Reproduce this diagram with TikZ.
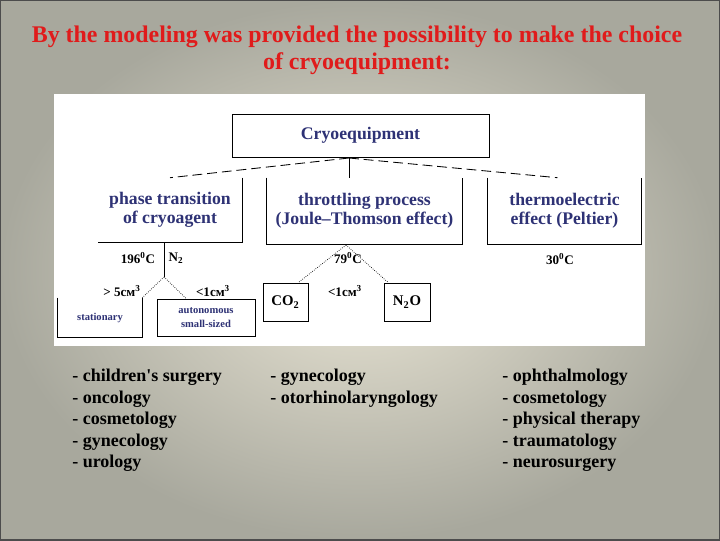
\documentclass[tikz,border=0pt]{standalone}
\usepackage{fontspec}
\setmainfont{Liberation Serif}
\usepackage{xcolor}
\definecolor{SlideRed}{HTML}{E01B1B}
\definecolor{BoxNavy}{HTML}{2E3275}
\definecolor{BgLight}{HTML}{E9E5D5}
\definecolor{BgDark}{HTML}{A8A89D}
\usetikzlibrary{calc}
\newcommand{\px}{0.025cm}
\newcommand{\degr}{\textsuperscript{0}}
\newcommand{\cmcube}{см\textsuperscript{3}}

\begin{document}
\begin{tikzpicture}[x=0.025cm, y=-0.025cm,
        heading/.style={
            align=center, inner sep=0pt, text=SlideRed,
            font=\fontsize{17}{19.4}\selectfont\bfseries
        },
        method/.style={
            rectangle, inner sep=0pt, align=center, text=BoxNavy,
            font=\fontsize{12.6}{13.6}\selectfont\bfseries
        },
        kind/.style={
            rectangle, inner sep=0pt, align=center, text=BoxNavy,
            font=\fontsize{7.5}{10}\selectfont\bfseries
        },
        gas/.style={
            rectangle, draw=black, line width=0.6pt, inner sep=0pt,
            font=\fontsize{10.5}{12}\selectfont\bfseries
        },
        note/.style={inner sep=0pt, font=\fontsize{9.3}{11}\selectfont\bfseries},
        usage/.style={
            anchor=north west, align=left, inner sep=0pt,
            font=\fontsize{12.8}{15.3}\selectfont\bfseries
        },
        edge/.style={line width=0.6pt},
        split/.style={line width=0.6pt, dash pattern=on 7pt off 3.5pt},
        dots/.style={line width=0.5pt, densely dotted}
    ]
        \useasboundingbox (0,0) rectangle (720,540);
        \shade[inner color=BgLight, outer color=BgDark] (0,0) rectangle (720,540);
        \draw[line width=1pt, draw=black!70] (0,0) rectangle (720,540);
        \fill[white] (54,94) rectangle (645,346);

        \node[heading] (title) at (357,50) {By the modeling was provided the possibility to make the choice\\of cryoequipment:};

        \node[method, draw=black, line width=0.6pt, minimum width=257*\px, minimum height=43*\px] (cryo) at (360.5,135.5) {Cryoequipment};
        \node[method, minimum width=144*\px, minimum height=64*\px] (phase) at (170,210) {phase transition\\of cryoagent};
        \node[method, minimum width=195*\px, minimum height=66*\px] (joule) at (364.5,211) {throttling process\\(Joule--Thomson effect)};
        \node[method, minimum width=153*\px, minimum height=66*\px] (peltier) at (564.5,211) {thermoelectric\\effect (Peltier)};

        \node[kind, minimum width=84*\px, minimum height=39*\px] (fixed) at (100,317.5) {stationary};
        \node[kind, draw=black, line width=0.6pt, minimum width=98*\px, minimum height=37*\px] (mobile) at (206,317.5) {autonomous\\small-sized};
        \node[gas, minimum width=45*\px, minimum height=38*\px] (co2) at (285.5,302) {CO\textsubscript{2}};
        \node[gas, minimum width=46*\px, minimum height=38*\px] (n2o) at (407,302) {N\textsubscript{2}O};

        \coordinate (hub) at (349,158);
        \coordinate (n2fork) at (164,277);
        \coordinate (jtfork) at (346,245);

        \draw[edge] (phase.north east) -- (phase.south east) -- (phase.south west);
        \draw[edge] (joule.north west) -- (joule.south west) -- (joule.south east) -- (joule.north east);
        \draw[edge] (peltier.north west) -- (peltier.south west) -- (peltier.south east) -- (peltier.north east);
        \draw[edge] (fixed.north west) -- (fixed.south west) -- (fixed.south east) -- (fixed.north east);

        \draw[split] (hub) -- (phase.north);
        \draw[split] (hub) -- ($(peltier.north)+(-7,0)$);
        \draw[edge] (hub) -- (hub |- joule.north);
        \draw[edge] (n2fork |- phase.south) -- (n2fork);
        \draw[dots] (n2fork) -- (fixed.north east);
        \draw[dots] (n2fork) -- ($(mobile.north west)!0.3!(mobile.north east)$);
        \draw[dots] (jtfork) -- ($(co2.north west)!0.78!(co2.north east)$);
        \draw[dots] (jtfork) -- ($(n2o.north west)!0.1!(n2o.north east)$);

        \node[note] (t196) at (138,258) {196\degr C};
        \node[note] (nitro) at (176,258) {N\textsubscript{2}};
        \node[note] (big) at (122,291) {> 5\cmcube};
        \node[note] (small) at (213,291) {<1\cmcube};
        \node[note] (t79) at (348,258) {79\degr C};
        \node[note] (tiny) at (345,291) {<1\cmcube};
        \node[note] (t30) at (560,259) {30\degr C};

        \node[usage] (list1) at (72,369) {- children\textquotesingle s surgery\\- oncology\\- cosmetology\\- gynecology\\- urology};
        \node[usage] (list2) at (270,369) {- gynecology\\- otorhinolaryngology};
        \node[usage] (list3) at (502,369) {- ophthalmology\\- cosmetology\\- physical therapy\\- traumatology\\- neurosurgery};
    \end{tikzpicture}
\end{document}
